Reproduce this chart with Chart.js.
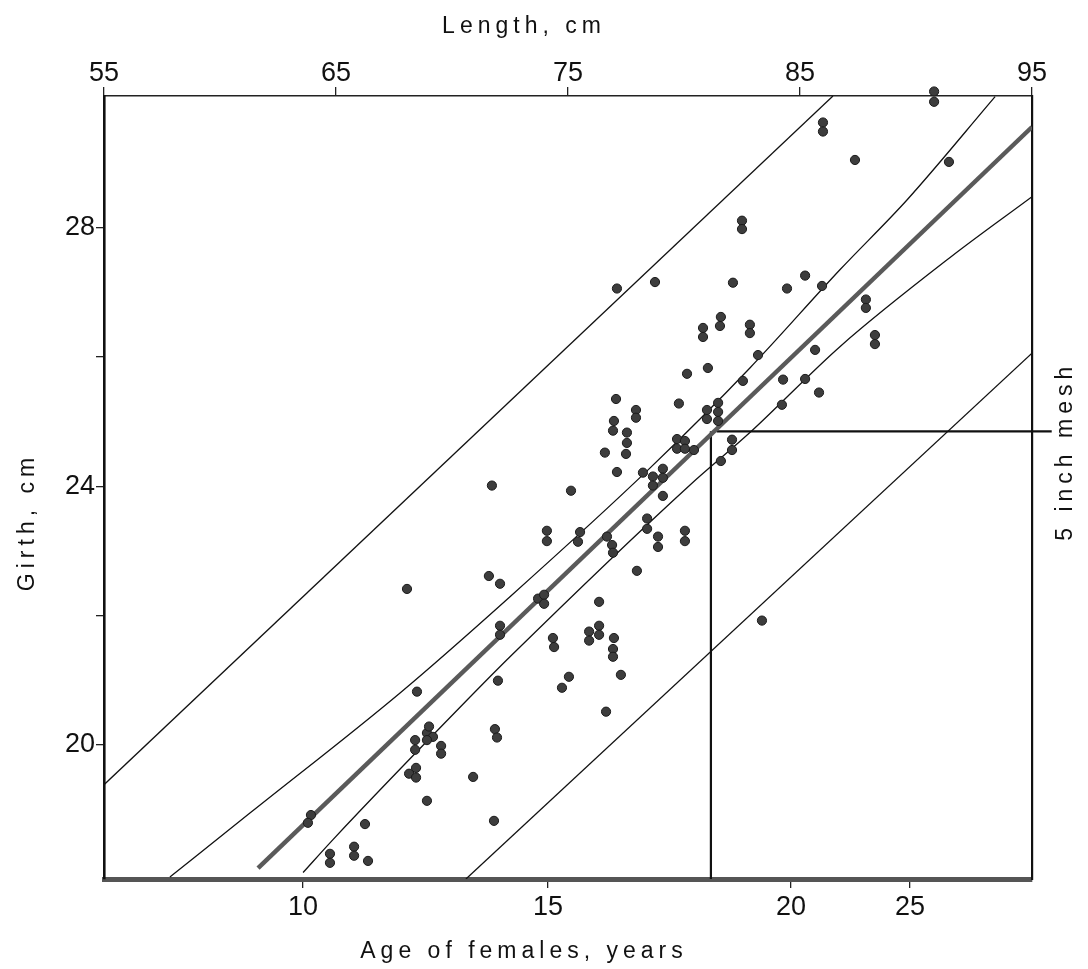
<!DOCTYPE html>
<html>
<head>
<meta charset="utf-8">
<script src="https://cdn.jsdelivr.net/npm/chart.js@4.4.1/dist/chart.umd.min.js"></script>
<style>
  html, body { margin: 0; padding: 0; background: #fff; }
  #wrap { width: 1088px; height: 969px; position: relative; }
</style>
</head>
<body>
<div id="wrap"><canvas id="girthChart"></canvas></div>
<script>
// observed fish: length (cm) and girth (cm)
const lengthCm = [
  63.92, 63.79, 64.74, 64.74, 65.78, 65.78, 66.38, 66.25, 68.06, 68.49,
  68.41, 68.41, 68.45, 68.15, 68.45, 68.92, 69.01, 69.18, 68.92, 69.53,
  69.53, 68.92, 70.91, 71.81, 71.98, 71.85, 71.94, 72.07, 72.07, 71.59,
  72.07, 71.72, 73.71, 73.97, 73.97, 74.35, 74.40, 75.04, 74.74, 74.09,
  74.09, 75.13, 75.52, 75.43, 75.91, 75.91, 76.34, 76.34, 76.34, 76.98,
  76.94, 76.94, 77.28, 76.68, 76.90, 76.94, 77.97, 76.59, 77.11, 77.07,
  76.98, 76.94, 77.54, 77.54, 77.50, 77.93, 77.93, 77.11, 78.75, 78.41,
  78.41, 78.23, 78.66, 78.66, 79.09, 79.09, 79.09, 78.88, 78.88, 80.04,
  80.04, 79.70, 79.70, 80.04, 80.04, 80.43, 79.78, 80.13, 81.03, 80.99,
  80.99, 81.47, 81.47, 81.47, 82.07, 82.07, 81.59, 82.54, 80.82, 80.82,
  81.59, 81.55, 82.11, 82.50, 82.50, 82.84, 82.84, 83.19, 84.27, 85.22,
  84.22, 85.82, 85.65, 84.44, 85.22, 85.95, 87.84, 87.84, 88.23, 88.23,
  87.37, 91.42, 85.99, 85.99, 90.78, 90.78, 76.64, 83.36
];
const girthCm = [
  18.91, 18.79, 18.31, 18.17, 18.42, 18.28, 18.20, 18.77, 22.41, 20.82,
  20.07, 19.92, 19.64, 19.55, 19.49, 20.18, 20.28, 20.12, 20.07, 19.98,
  19.86, 19.13, 19.50, 18.82, 20.99, 20.24, 20.11, 21.84, 21.70, 22.61,
  22.49, 24.01, 22.26, 22.32, 22.18, 21.65, 21.51, 21.05, 20.88, 23.31,
  23.15, 23.93, 23.29, 23.14, 21.75, 21.61, 22.21, 21.84, 21.70, 21.65,
  21.48, 21.36, 21.08, 23.22, 23.09, 22.97, 22.69, 24.52, 24.22, 25.35,
  25.01, 24.86, 24.83, 24.67, 24.50, 25.18, 25.06, 27.06, 27.16, 23.50,
  23.34, 24.21, 24.15, 24.01, 24.27, 24.13, 23.85, 23.22, 23.06, 23.31,
  23.15, 24.73, 24.58, 24.70, 24.58, 24.56, 25.28, 25.74, 25.83, 25.18,
  25.04, 25.29, 25.15, 25.01, 24.72, 24.56, 24.39, 25.63, 26.45, 26.31,
  26.62, 26.48, 27.15, 28.11, 27.98, 26.50, 26.37, 26.03, 25.65, 25.66,
  25.26, 25.45, 26.11, 27.06, 27.26, 27.10, 26.89, 26.76, 26.34, 26.20,
  29.05, 29.02, 29.63, 29.49, 30.11, 29.95, 20.51, 21.92
];

// fitted lines (length, girth)
const regL = [61.64, 95.0];
const regG = [18.09, 29.56];
const upperConfL = [57.84, 61.29, 67.76, 72.50, 78.53, 82.84, 86.72, 89.61, 93.41];
const upperConfG = [17.95, 18.94, 20.80, 22.29, 24.28, 25.83, 27.35, 28.43, 30.03];
const lowerConfL = [63.58, 64.87, 70.65, 72.50, 80.26, 82.84, 86.72, 91.47, 95.0];
const lowerConfG = [18.02, 18.53, 20.69, 21.36, 24.02, 24.83, 26.16, 27.54, 28.48];
const upperPredL = [55.0, 86.42];
const upperPredG = [19.38, 30.04];
const lowerPredL = [70.6, 95.0];
const lowerPredG = [17.92, 26.06];

// 5 inch mesh marker
const meshLength = 81.16;
const meshGirth = 24.85;
const meshLineEnd = 95.85;

// axes
const lengthTicks = [55, 65, 75, 85, 95];
const ageTicks = [10, 15, 20, 25];
const ageTickLength = [63.58, 74.14, 84.61, 89.74];
const girthTicks = [20, 22, 24, 26, 28];
const girthLabels = [20, 24, 28];

const pts = (xs, ys) => xs.map((x, i) => ({ x: x, y: ys[i] }));

const FONT = '"Liberation Sans", Arial, Helvetica, sans-serif';
Chart.defaults.font.family = FONT;
Chart.defaults.color = '#111';

const titles = {
  id: 'titles',
  afterDraw(chart) {
    const ctx = chart.ctx;
    const a = chart.chartArea;
    const ys = chart.scales.y;
    ctx.save();
    ctx.fillStyle = '#111';
    ctx.font = '23px ' + FONT;
    ctx.letterSpacing = '5px';
    ctx.textAlign = 'center';
    ctx.textBaseline = 'alphabetic';
    ctx.fillText('Length, cm', a.left + 420, 33);
    ctx.fillText('Age of females, years', a.left + 420, 958);

    ctx.save();
    ctx.translate(34, 522);
    ctx.rotate(-Math.PI / 2);
    ctx.fillText('Girth, cm', 0, 0);
    ctx.restore();

    ctx.save();
    ctx.translate(a.right + 40, ys.getPixelForValue(meshGirth) + 20);
    ctx.rotate(-Math.PI / 2);
    ctx.fillText('5 inch mesh', 0, 0);
    ctx.restore();
    ctx.restore();
  }
};

const thin = { showLine: true, borderColor: '#111', borderWidth: 1.3, pointRadius: 0, fill: false };

new Chart(document.getElementById('girthChart'), {
  type: 'scatter',
  data: {
    datasets: [
      {
        label: 'Fish',
        data: pts(lengthCm, girthCm),
        pointRadius: 4.6,
        pointBackgroundColor: '#3d3d3d',
        pointBorderColor: '#1a1a1a',
        pointBorderWidth: 1,
        showLine: false,
        clip: false
      },
      Object.assign({ label: 'Regression', data: pts(regL, regG) }, thin,
        { borderColor: '#5a5a5a', borderWidth: 4.5 }),
      Object.assign({ label: 'Upper confidence', data: pts(upperConfL, upperConfG), cubicInterpolationMode: 'monotone' }, thin),
      Object.assign({ label: 'Lower confidence', data: pts(lowerConfL, lowerConfG), cubicInterpolationMode: 'monotone' }, thin),
      Object.assign({ label: 'Upper prediction', data: pts(upperPredL, upperPredG) }, thin),
      Object.assign({ label: 'Lower prediction', data: pts(lowerPredL, lowerPredG) }, thin),
      Object.assign({ label: 'Mesh vertical', data: [{ x: meshLength, y: 17.92 }, { x: meshLength, y: meshGirth }] }, thin,
        { borderWidth: 2.2 }),
      Object.assign({ label: 'Mesh horizontal', data: [{ x: meshLength + 0.25, y: meshGirth }, { x: meshLineEnd, y: meshGirth }] }, thin,
        { borderWidth: 2.2, clip: false })
    ]
  },
  options: {
    responsive: true,
    maintainAspectRatio: false,
    animation: false,
    layout: { padding: 0 },
    plugins: { legend: { display: false }, tooltip: { enabled: false } },
    scales: {
      x: {
        type: 'linear', position: 'top', min: 55, max: 95,
        afterBuildTicks: s => { s.ticks = lengthTicks.map(v => ({ value: v })); },
        afterFit: s => { s.height = 96; },
        ticks: { font: { size: 27 }, padding: -3, maxRotation: 0, color: '#111' },
        grid: { drawOnChartArea: false, drawTicks: true, tickLength: 9, color: '#222', lineWidth: 1.3 },
        border: { display: true, color: '#222', width: 1.6 }
      },
      x2: {
        type: 'linear', position: 'bottom', min: 55, max: 95,
        afterBuildTicks: s => { s.ticks = ageTickLength.map(v => ({ value: v })); },
        afterFit: s => { s.height = 90; },
        ticks: { font: { size: 27 }, padding: 3, maxRotation: 0, color: '#111',
          callback: (v, i) => ageTicks[i] },
        grid: { drawOnChartArea: false, drawTicks: true, tickLength: 9, color: '#222', lineWidth: 1.3 },
        border: { display: true, color: '#555', width: 5 }
      },
      y: {
        type: 'linear', position: 'left', min: 17.92, max: 30.04,
        afterBuildTicks: s => { s.ticks = girthTicks.map(v => ({ value: v })); },
        afterFit: s => { s.width = 104; },
        ticks: { font: { size: 27 }, padding: 1, color: '#111',
          callback: v => girthLabels.includes(v) ? String(v) : '' },
        grid: { drawOnChartArea: false, drawTicks: true, tickLength: 8, color: '#222', lineWidth: 1.3 },
        border: { display: true, color: '#111', width: 2.6 }
      },
      y2: {
        type: 'linear', position: 'right', min: 0, max: 1,
        afterFit: s => { s.width = 56; },
        ticks: { display: false },
        grid: { display: false },
        border: { display: true, color: '#111', width: 2.2 }
      }
    }
  },
  plugins: [titles]
});
</script>
</body>
</html>
